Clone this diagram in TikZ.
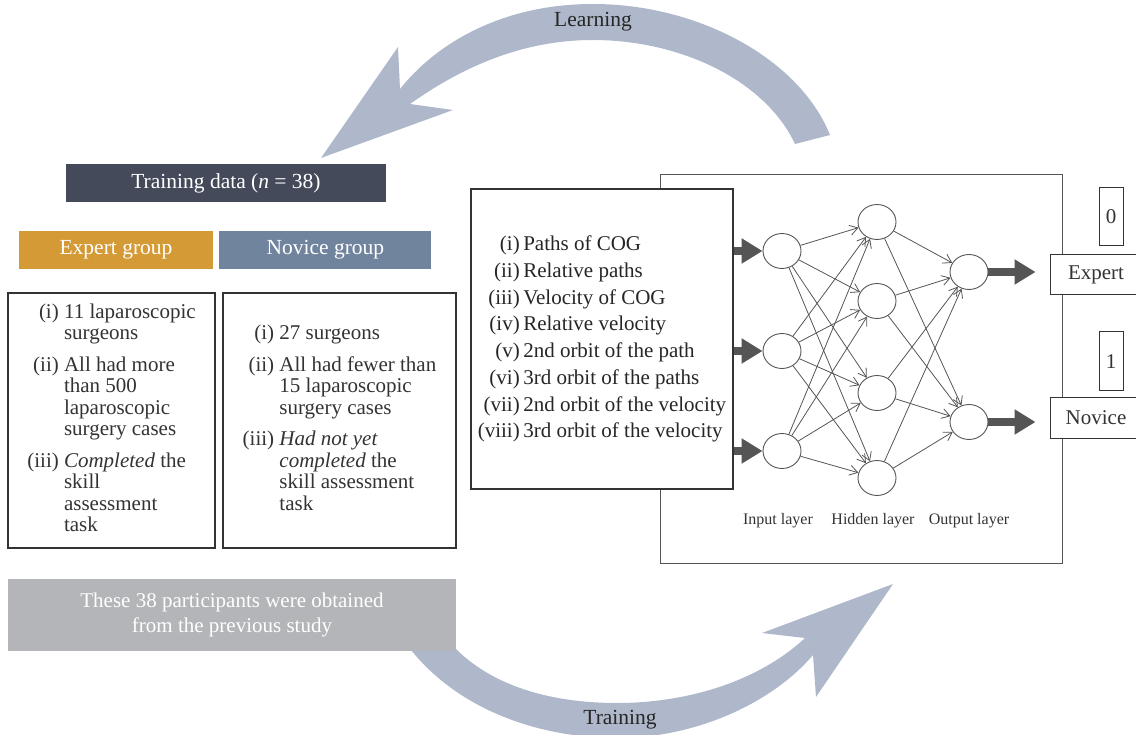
\documentclass[tikz,border=0pt]{standalone}
\usepackage{fontspec}
\setmainfont{Liberation Serif}
\usepackage{tikz}
\usetikzlibrary{arrows.meta,positioning,shapes.geometric,calc}
\definecolor{cHead}{HTML}{444A5A}
\definecolor{cExp}{HTML}{D49A35}
\definecolor{cNov}{HTML}{71849E}
\definecolor{cSrc}{HTML}{B4B5B8}
\definecolor{cBand}{HTML}{AEB8CA}
\definecolor{cFlow}{HTML}{555555}
\definecolor{cTxt}{HTML}{333333}
\tikzset{
  title/.style={fill=#1, text=white, inner sep=0pt, minimum height=38pt,
                font=\fontsize{21.5}{23}\selectfont},
  list/.style={draw=cTxt, line width=1.1pt, fill=white, text=cTxt, inner sep=0pt,
               font=\fontsize{21}{21.5}\selectfont},
  unit/.style={ellipse, draw=cFlow, line width=0.9pt, fill=white, minimum width=38pt,
               minimum height=35pt, inner sep=0pt},
  link/.style={-{Straight Barb[length=8pt,width=10pt]}, draw=cFlow, line width=0.8pt},
  feed/.style={-{Triangle[length=21pt,width=24pt]}, line width=8pt, draw=cFlow},
  band/.style={fill=cBand, draw=none},
  blbl/.style={text=black!85, font=\fontsize{21.5}{23}\selectfont},
  lyr/.style={font=\fontsize{16}{18}\selectfont, text=cTxt},
  tag/.style={draw=cTxt, line width=1pt, fill=white, text=cTxt, inner sep=0pt,
              font=\fontsize{21}{23}\selectfont},
}

\begin{document}
\begin{tikzpicture}[x=1pt, y=-1pt]
  \useasboundingbox (0,0) rectangle (1136,735);

  % curved arrows behind everything
  \fill[band] (830,135) .. controls (800,60) and (700,4) .. (593,4)
    .. controls (500,4) and (435,45) .. (400,89) -- (398,47) -- (321,158)
    -- (453,110) -- (410,104) .. controls (465,65) and (525,40) .. (593,40)
    .. controls (680,40) and (765,80) .. (795,144) -- cycle;
  \fill[band] (400,635) .. controls (450,710) and (540,738) .. (617,738)
    .. controls (700,738) and (775,700) .. (813,655) -- (816,697) -- (893,584)
    -- (762,633) -- (805,638) .. controls (760,680) and (690,703) .. (617,703)
    .. controls (540,703) and (475,680) .. (440,630) -- cycle;
  \node[blbl] (learn) at (593,22) {Learning};
  \node[blbl] (train) at (620,720) {Training};

  % training data side
  \node[title=cHead, minimum width=320pt] (data) at (226,183.5) {Training data (\textit{n} = 38)};
  \node[title=cExp, minimum width=194pt] (expg) at (116,250) {Expert group};
  \node[title=cNov, minimum width=212pt, right=6pt of expg] (novg) {Novice group};

  \node[list, minimum width=207pt, minimum height=255pt] (expl) at (111.5,420.5) {%
    \begin{tabular}{@{}r@{\ }l@{}}
      (i) & 11 laparoscopic\\ & surgeons\\[10pt]
      (ii) & All had more\\ & than 500\\ & laparoscopic\\ & surgery cases\\[10pt]
      (iii) & \textit{Completed} the\\ & skill\\ & assessment\\ & task
    \end{tabular}};
  \node[list, minimum width=233pt, minimum height=255pt] (novl) at (339.5,420.5) {%
    \begin{tabular}{@{}r@{\ }l@{}}
      (i) & 27 surgeons\\[10pt]
      (ii) & All had fewer than\\ & 15 laparoscopic\\ & surgery cases\\[10pt]
      (iii) & \textit{Had not yet}\\ & \textit{completed} the\\ & skill assessment\\ & task
    \end{tabular}};

  \node[fill=cSrc, text=white, align=center, minimum width=448pt, minimum height=72pt,
        inner sep=0pt, font=\fontsize{21}{25}\selectfont] (src) at (232,615)
    {These 38 participants were obtained\\from the previous study};

  % network
  \node[draw=cFlow, line width=1pt, minimum width=402pt, minimum height=388pt] (net) at (861,369) {};
  \node[list, minimum width=262pt, minimum height=300pt, font=\fontsize{21}{26.7}\selectfont,
        text=black!85] (feat) at (602,339) {%
    \begin{tabular}{@{}r@{\,}l@{}}
      (i) & Paths of COG\\
      (ii) & Relative paths\\
      (iii) & Velocity of COG\\
      (iv) & Relative velocity\\
      (v) & 2nd orbit of the path\\
      (vi) & 3rd orbit of the paths\\
      (vii) & 2nd orbit of the velocity\\
      (viii) & 3rd orbit of the velocity
    \end{tabular}};

  \node[unit] (in1) at (782,251) {};
  \node[unit] (in2) at (782,351) {};
  \node[unit] (in3) at (782,451) {};
  \node[unit] (hid1) at (877,222) {};
  \node[unit] (hid2) at (877,301) {};
  \node[unit] (hid3) at (877,393) {};
  \node[unit] (hid4) at (877,478) {};
  \node[unit] (out1) at (969,272) {};
  \node[unit] (out2) at (969,422) {};

  \foreach \i in {1,2,3}
    \foreach \j in {1,...,4}
      \draw[link] (in\i) -- (hid\j);
  \foreach \j in {1,...,4}
    \foreach \k in {1,2}
      \draw[link] (hid\j) -- (out\k);

  \foreach \i in {1,2,3}
    \draw[feed] (feat.east |- in\i) -- (in\i);

  \node[lyr] (lin) at (778,521) {Input layer};
  \node[lyr] (lhid) at (873,521) {Hidden layer};
  \node[lyr] (lout) at (969,521) {Output layer};

  % class outputs
  \node[tag, minimum width=92pt, minimum height=40pt] (expert) at (1096,275) {Expert};
  \node[tag, minimum width=92pt, minimum height=40pt] (novice) at (1096,418) {Novice};
  \node[tag, minimum width=24pt, minimum height=58pt] (zero) at (1111,217) {0};
  \node[tag, minimum width=24pt, minimum height=59pt] (one) at (1111,361.5) {1};

  \draw[feed, shorten >=14pt] (out1) -- (expert.west |- out1);
  \draw[feed, shorten >=14pt] (out2) -- (novice.west |- out2);
\end{tikzpicture}
\end{document}
